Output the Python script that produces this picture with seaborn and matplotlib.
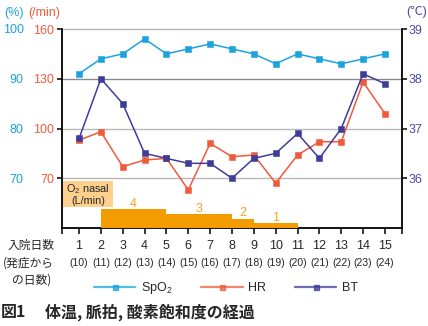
import matplotlib
matplotlib.use("Agg")
import matplotlib.pyplot as plt
import seaborn as sns
from matplotlib.lines import Line2D
from matplotlib.patches import Rectangle

# Hospital day, day since onset, and vital signs
days = list(range(1, 16))
onset_days = list(range(10, 25))
spo2 = [91, 94, 95, 98, 95, 96, 97, 96, 95, 93, 95, 94, 93, 94, 95]     # %
hr = [93, 98, 77, 81, 82, 63, 91, 83, 84, 67, 84, 92, 92, 128, 109]    # /min
bt = [36.8, 38.0, 37.5, 36.5, 36.4, 36.3, 36.3, 36.0, 36.4, 36.5,
      36.9, 36.4, 37.0, 38.1, 37.9]                                      # deg C

# Nasal oxygen (L/min): start day, end day, flow
o2_start = [2, 5, 8, 9]
o2_end = [5, 8, 9, 11]
o2_flow = [4, 3, 2, 1]

spo2_ticks = [70, 80, 90, 100]
hr_ticks = [70, 100, 130, 160]
bt_ticks = [36, 37, 38, 39]

SP_C = "#1ba3dd"
HR_C = "#ef5a3a"
BT_C = "#3e3c98"
BT_TXT = "#4b48a6"
O2_C = "#f29c00"
O2_TXT = "#f5a21e"
BOX_C = "#fdd08e"

sns.set_theme(style="white")
plt.rcParams["font.family"] = ["Liberation Sans", "Noto Sans CJK JP", "DejaVu Sans"]
plt.rcParams["mathtext.fontset"] = "custom"
plt.rcParams["mathtext.rm"] = "Liberation Sans"

W, H = 428, 326
fig = plt.figure(figsize=(W / 100, H / 100), dpi=100)
fig.patch.set_facecolor("white")

L, R, T, B = 62, 402, 29, 228
ax = fig.add_axes([L / W, 1 - B / H, (R - L) / W, (B - T) / H])
ax.set_facecolor("none")
ax_o2 = ax.twinx()
ax_sp = ax.twinx()
ax_bt = ax.twinx()

ax.set_xlim(0.22, 15.78)
ax.set_ylim(40, 160)
ax_sp.set_ylim(60, 100)
ax_bt.set_ylim(35, 39)
ax_o2.set_ylim(0, 42)

for a in (ax, ax_o2, ax_sp, ax_bt):
    for s in a.spines.values():
        s.set_visible(False)
for side in ("left", "bottom"):
    ax.spines[side].set_visible(True)
    ax.spines[side].set_color("black")
    ax.spines[side].set_linewidth(1.3)
ax_bt.spines["right"].set_visible(True)
ax_bt.spines["right"].set_color("black")
ax_bt.spines["right"].set_linewidth(1.3)

# horizontal guide lines
ax.set_yticks(hr_ticks)
ax.grid(axis="y", linewidth=1.0)
ax.grid(axis="x", visible=False)
for val, gl in zip(hr_ticks, ax.get_ygridlines()):
    gl.set_color("#8a8a8a" if val == 130 else "#b8b8b8")
    gl.set_clip_on(False)

# x axis
ax.set_xticks(days)
ax.set_xticks([0.22, 15.78], minor=True)
ax.tick_params(axis="x", which="both", direction="out", length=4.5, width=1.1,
               color="black", bottom=True, labelsize=9, pad=4)
for d, o in zip(days, onset_days):
    ax.text(d, -0.176, f"({o})", transform=ax.get_xaxis_transform(),
            ha="center", va="center", fontsize=7.5)

# left axes: HR (inner) and SpO2 (outer)
ax.tick_params(axis="y", left=True, direction="out", length=3.5, width=1.1,
               color="black", pad=2, labelsize=9, labelcolor=HR_C)
ax_sp.set_yticks(spo2_ticks)
ax_sp.yaxis.tick_left()
ax_sp.tick_params(axis="y", length=0, pad=27.5, labelsize=9, labelcolor=SP_C)

# right axis: BT
ax_bt.set_yticks(bt_ticks)
ax_bt.tick_params(axis="y", right=True, direction="out", length=3.5, width=1.1,
                  color="black", pad=1.5, labelsize=9, labelcolor=BT_TXT)

# oxygen bars
ax_o2.set_yticks([])
ax_o2.bar(o2_start, o2_flow, width=[e - s for s, e in zip(o2_start, o2_end)],
          align="edge", color=O2_C, linewidth=0)
for s, e, f in zip(o2_start, o2_end, o2_flow):
    ax_o2.text((s + e) / 2, f - 0.2, str(f), ha="center", va="bottom",
               fontsize=9, color=O2_TXT)

# vital sign lines
line_kw = dict(marker="s", markersize=4.3, markeredgewidth=0.4,
               linewidth=1.1, legend=False)
sns.lineplot(x=days, y=spo2, ax=ax_sp, color=SP_C, markeredgecolor=SP_C, **line_kw)
sns.lineplot(x=days, y=hr, ax=ax, color=HR_C, markeredgecolor=HR_C, **line_kw)
sns.lineplot(x=days, y=bt, ax=ax_bt, color=BT_C, markeredgecolor=BT_C, **line_kw)
for a in (ax_sp, ax_bt, ax_o2):
    a.set_ylabel("")
ax.set_ylabel("")

# unit headers
fig.text(4 / W, 1 - 13 / H, "(%)", color=SP_C, fontsize=9, va="center")
fig.text(28 / W, 1 - 13 / H, "(/min)", color=HR_C, fontsize=9, va="center")
fig.text(406 / W, 1 - 12 / H, "(℃)", color=BT_TXT, fontsize=9, va="center")

# oxygen caption box
fig.add_artist(Rectangle((63 / W, 1 - 207 / H), 50 / W, 26 / H,
                         transform=fig.transFigure, facecolor=BOX_C,
                         edgecolor="none", zorder=5))
fig.text(88 / W, 1 - 189 / H, "O$_2$ nasal", ha="center", va="center",
         fontsize=7.8, zorder=6)
fig.text(88 / W, 1 - 200.5 / H, "(L/min)", ha="center", va="center",
         fontsize=7.8, zorder=6)

# x axis row titles
cjk = ["Noto Sans CJK JP", "DejaVu Sans"]
fig.text(31.5 / W, 1 - 245 / H, "入院日数", ha="center", va="center",
         fontsize=8.5, family=cjk)
fig.text(3 / W, 1 - 263 / H, "(発症から", ha="left", va="center",
         fontsize=8.5, family=cjk)
fig.text(12 / W, 1 - 280 / H, "の日数)", ha="left", va="center",
         fontsize=8.5, family=cjk)

# legend
handles = [Line2D([], [], color=c, marker="s", markersize=3.6, lw=1.6, alpha=0.75)
           for c in (SP_C, HR_C, BT_C)]
fig.legend(handles, ["SpO$_2$", "HR", "BT"], loc="center",
           bbox_to_anchor=(226 / W, 1 - 288 / H), ncol=3, frameon=False,
           fontsize=9, handlelength=3.3, handletextpad=0.45, columnspacing=2.3)

# figure caption
fig.text(1 / W, 1 - 312 / H, "図1", ha="left", va="center", fontsize=11.5,
         fontweight="bold", family=cjk)
fig.text(45 / W, 1 - 312 / H, "体温, 脈拍, 酸素飽和度の経過", ha="left",
         va="center", fontsize=11.5, fontweight="bold", family=cjk)

fig.savefig("out.png", dpi=100)
